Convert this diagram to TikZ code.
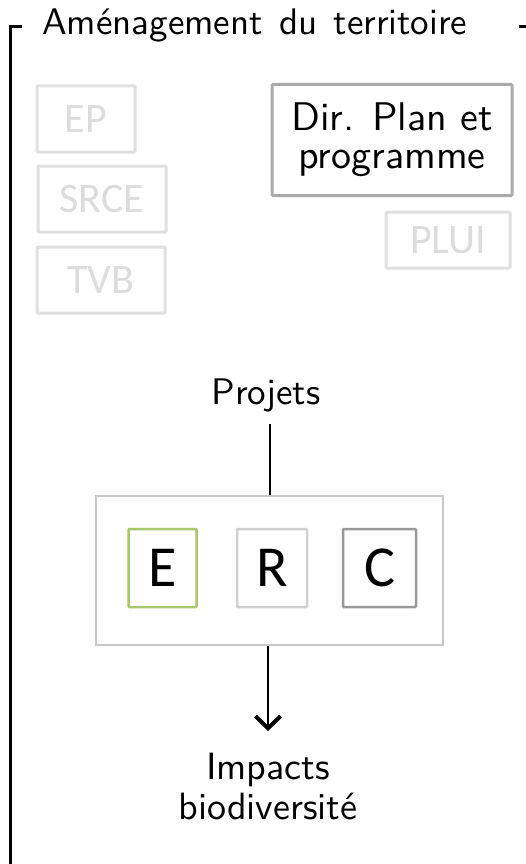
\documentclass[tikz,border=0pt]{standalone}
\usepackage{fontspec}
\newfontfamily\boxfont{Carlito}
\newfontfamily\lmten{lmsans10-regular.otf}
\usetikzlibrary{arrows.meta}
\definecolor{faint}{HTML}{E0E0E0}
\definecolor{faintText}{HTML}{DCDCDC}
\definecolor{dirGray}{HTML}{AAAAAA}
\definecolor{outerGray}{HTML}{C8C8C8}
\definecolor{eGreen}{HTML}{A8C66C}
\definecolor{rGray}{HTML}{D0D0D0}
\definecolor{cGray}{HTML}{999999}
\tikzset{
  lbl/.style={font=\lmten\fontsize{37}{40}\selectfont, inner sep=0pt},
  faintbox/.style={draw=faint, line width=3pt, rounded corners=1pt, text=faintText,
    font=\boxfont\fontsize{42}{42}\selectfont, inner sep=0pt},
  letterbox/.style={line width=2.5pt, rounded corners=1pt, minimum width=68pt, minimum height=78pt,
    font=\boxfont\fontsize{58}{58}\selectfont, inner sep=0pt, text=black},
  frameline/.style={line width=3pt, black}
}
\begin{document}
\begin{tikzpicture}[x=1pt,y=-1pt]
\useasboundingbox (0,0) rectangle (525,864);
% frame with title
\node[lbl, anchor=base west] (title) at (42,35) {\spaceskip=0.44em Aménagement du territoire};
\coordinate (fl) at (22,26.5);
\coordinate (fr) at (519,26.5);
\draw[frameline] (fl) -- (10,26.5) -- (10,880);
\draw[frameline] (fr) -- (540,26.5);
% faint boxes
\node[faintbox, minimum width=98pt, minimum height=66pt] (ep) at (86,119) {EP};
\node[faintbox, minimum width=128pt, minimum height=66pt] (srce) at (102,199) {SRCE};
\node[faintbox, minimum width=128pt, minimum height=66pt] (tvb) at (101,280) {TVB};
\node[faintbox, minimum width=124pt, minimum height=56pt] (plui) at (448,240) {PLUI};
% Dir plan
\node[draw=dirGray, line width=3pt, minimum width=240pt, minimum height=111pt, rounded corners=1pt,
  align=center, font=\lmten\fontsize{40}{38}\selectfont, inner sep=0pt] (dir) at (392,140) {Dir. Plan et\\programme};
% ERC
\node[draw=outerGray, line width=2pt, minimum width=347pt, minimum height=149pt] (erc) at (269.5,570.5) {};
\node[letterbox, draw=eGreen] (e) at (162.5,568) {E};
\node[letterbox, draw=rGray, minimum width=70pt] (r) at (272,568) {R};
\node[letterbox, draw=cGray, minimum width=73pt] (c) at (379.5,568) {C};
% projets and impacts
\node[lbl, anchor=base] (proj) at (266,404) {Projets};
\draw[line width=2pt] (proj.south -| erc.north) ++(0,12) -- (erc.north);
\node[lbl, align=center, anchor=north, inner ysep=22pt, font=\lmten\fontsize{38}{40}\selectfont] (imp) at (268,731) {Impacts\\biodiversité};
\draw[line width=2.7pt, -{Straight Barb[length=12pt,width=25pt,line width=4pt]}] (erc.south -| imp.north) -- (imp.north);
\end{tikzpicture}
\end{document}
